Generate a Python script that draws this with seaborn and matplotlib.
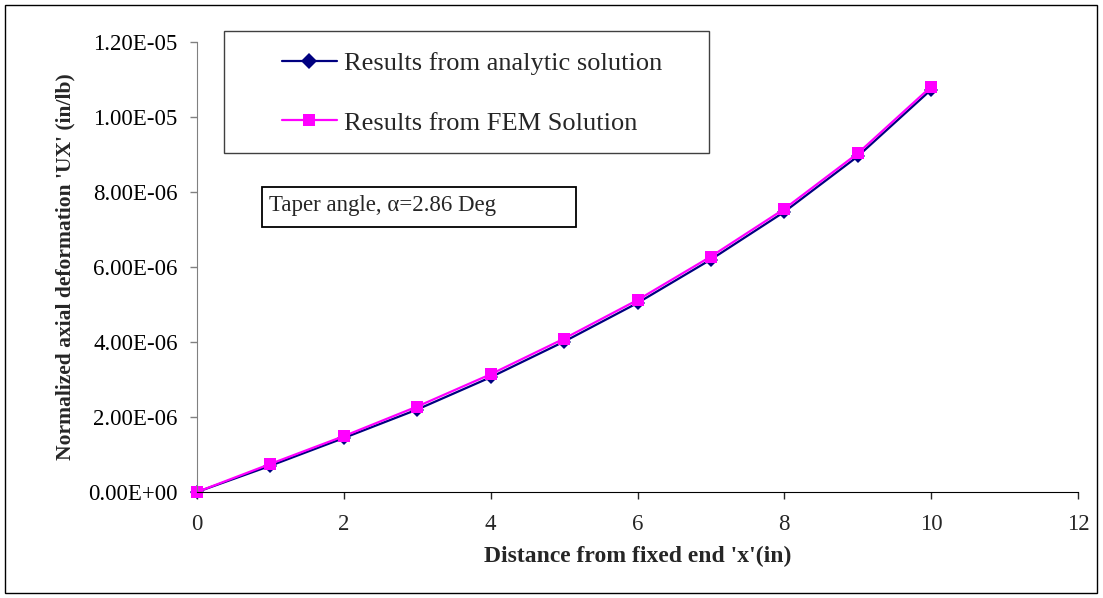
import matplotlib
matplotlib.use("Agg")
import matplotlib.pyplot as plt
import matplotlib.ticker as mticker
from matplotlib.patches import Rectangle
from matplotlib.lines import Line2D
import seaborn as sns
import pandas as pd

# ---- data ----
distance = [0, 1, 2, 3, 4, 5, 6, 7, 8, 9, 10]
analytic = [0.0, 0.70e-6, 1.44e-6, 2.20e-6, 3.06e-6, 4.01e-6, 5.04e-6, 6.20e-6, 7.47e-6, 8.95e-6, 10.73e-6]
fem = [0.0, 0.75e-6, 1.49e-6, 2.28e-6, 3.14e-6, 4.09e-6, 5.12e-6, 6.28e-6, 7.55e-6, 9.03e-6, 10.81e-6]
series_names = ["Results from analytic solution", "Results from FEM Solution"]
x_ticks = [0, 2, 4, 6, 8, 10, 12]
y_ticks = [0, 2e-6, 4e-6, 6e-6, 8e-6, 10e-6, 12e-6]
annotation = "Taper angle, \u03b1=2.86 Deg"
x_label = "Distance from fixed end 'x'(in)"
y_label = "Normalized axial deformation 'UX' (in/lb)"

df = pd.DataFrame({
    "x": distance * 2,
    "y": analytic + fem,
    "series": [series_names[0]] * len(distance) + [series_names[1]] * len(distance),
})

sns.set_style("ticks")
plt.rcParams["font.family"] = ["Liberation Serif", "DejaVu Serif"]

W, H = 1103, 598
fig = plt.figure(figsize=(W / 100, H / 100), dpi=100)
ax = fig.add_axes([197 / W, 1 - 492 / H, (1078 - 197) / W, (492 - 42) / H])

colors = {series_names[0]: "#000080", series_names[1]: "#FF00FF"}
markers = {series_names[0]: "D", series_names[1]: "s"}
sns.lineplot(data=df, x="x", y="y", hue="series", style="series",
             palette=colors, markers=markers, dashes=False, ax=ax,
             linewidth=1.6, markersize=8, markeredgewidth=0, legend=False)
for line in ax.lines:
    line.set_clip_on(False)
    if line.get_marker() == "s":
        line.set_markersize(9)
    else:
        line.set_markersize(7)

ax.set_xlim(0, 12)
ax.set_ylim(0, 12e-6)
ax.set_xticks(x_ticks)
ax.set_yticks(y_ticks)
ax.yaxis.set_major_formatter(mticker.FuncFormatter(lambda v, p: f"{v:.2E}"))
ax.tick_params(axis="both", labelsize=16.5, direction="out", length=5, width=1)
ax.tick_params(axis="x", pad=11)
ax.tick_params(axis="y", pad=9, colors="#808080", labelcolor="black")
ax.spines["top"].set_visible(False)
ax.spines["right"].set_visible(False)
ax.spines["left"].set_color("#808080")
ax.spines["bottom"].set_color("black")
ax.set_xlabel(x_label, fontsize=17, fontweight="bold", labelpad=8)
ax.set_ylabel(y_label, fontsize=15.5, fontweight="bold", labelpad=9)

# legend box
fig.patches.append(Rectangle((224 / W, 1 - 153 / H), (709 - 224) / W, (153 - 31) / H,
                             transform=fig.transFigure, fill=True, facecolor="white",
                             edgecolor="#404040", linewidth=1, zorder=5))
handles = [Line2D([0], [0], color=colors[n], marker=markers[n], markersize=9 if n == series_names[1] else 8,
                  markeredgewidth=0, linewidth=1.6) for n in series_names]
leg = fig.legend(handles, series_names, loc="center left",
                 bbox_to_anchor=(258 / W, 1 - 93 / H), frameon=False,
                 fontsize=19, handlelength=2.1, handletextpad=0.25, labelspacing=1.38)
leg.set_zorder(6)

# annotation box
fig.text(269 / W, 1 - 206 / H, annotation, fontsize=16.5, va="center", ha="left", zorder=6)
fig.patches.append(Rectangle((262 / W, 1 - 227 / H), (576 - 262) / W, (227 - 187) / H,
                             transform=fig.transFigure, fill=False,
                             edgecolor="black", linewidth=1.3, zorder=5))

# outer border
fig.patches.append(Rectangle((5 / W, 1 - 593 / H), (1097 - 5) / W, (593 - 5) / H,
                             transform=fig.transFigure, fill=False,
                             edgecolor="black", linewidth=1, zorder=0))

fig.savefig("out.png", dpi=100)
